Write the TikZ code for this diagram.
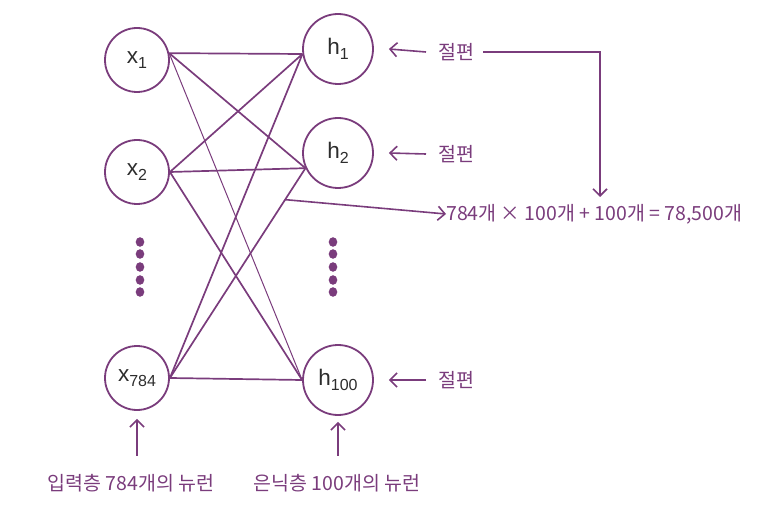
\documentclass[tikz,border=0pt]{standalone}
\usepackage{fontspec}
\setmainfont{Liberation Sans}
\newfontfamily\kr{Noto Sans CJK KR}
\usetikzlibrary{arrows.meta,calc}
\definecolor{pur}{RGB}{122,60,124}
\definecolor{ink}{RGB}{45,45,45}
\newcommand{\lsub}[1]{\raisebox{-0.45ex}{\fontsize{16}{16}\selectfont #1}}
\begin{document}
\begin{tikzpicture}[x=1pt,y=-1pt,
  neuron/.style={circle,draw=pur,line width=1.8pt,fill=white,inner sep=0pt,text=ink,font=\fontsize{22.5}{22.5}\selectfont},
  xn/.style={neuron,minimum size=64pt},
  hn/.style={neuron,minimum size=70pt},
  link/.style={draw=pur,line width=1.7pt},
  thin link/.style={draw=pur,line width=1.0pt},
  arr/.style={draw=pur,line width=1.6pt,-{Straight Barb[length=7pt,width=14pt,line width=1.6pt]}},
  lab/.style={text=pur,font=\kr\fontsize{19.5}{19.5}\selectfont,inner sep=0pt}
]
\useasboundingbox (0,0) rectangle (776,526);
% neurons
\node[xn] (x1) at (137,60) {x\lsub{1}};
\node[xn] (x2) at (137,172) {x\lsub{2}};
\node[xn] (x784) at (137,378) {x\lsub{784}};
\node[hn] (h1) at (338,49) {h\lsub{1}};
\node[hn] (h2) at (338,153) {h\lsub{2}};
\node[hn] (h100) at (338,380) {h\lsub{100}};
% dots
\foreach \y in {242,254,267,280,292}{
  \fill[pur] (140,\y) ellipse (4.3 and 4.8);
  \fill[pur] (333,\y) ellipse (4.3 and 4.8);
}
% connections
\path[link] (x1.12) -- (h1.188);
\path[link] (x1.12) -- (h2.205);
\path[thin link] (x1.12) -- (h100.west);
\path[link] (x2.east) -- (h1.188);
\path[link] (x2.east) -- (h2.205);
\path[link] (x2.east) -- (h100.west);
\path[link] (x784.east) -- (h1.188);
\path[link] (x784.east) -- coordinate[pos=0.85] (m) (h2.205);
\path[link] (x784.east) -- (h100.west);
% equation
\node[lab,anchor=west] (eq) at (446,214) {784개 × 100개 + 100개 = 78,500개};
\draw[arr] (m) -- (eq.west);
% biases
\node[lab,anchor=west] (b1) at (438,52) {절편};
\node[lab,anchor=west] (b2) at (438,154) {절편};
\node[lab,anchor=west] (b3) at (438,380) {절편};
\draw[arr] ([xshift=-12pt]b1.west) -- ([xshift=15pt]h1.east);
\draw[arr] ([xshift=-12pt]b2.west) -- ([xshift=15pt]h2.east);
\draw[arr] ([xshift=-12pt]b3.west) -- ([xshift=15pt]h100.east);
\coordinate (c) at (600,197);
\draw[arr] ([xshift=9pt]b1.east) -| (c);
% bottom labels
\node[lab] (in1) at (131,483) {입력층 784개의 뉴런};
\node[lab] (hid) at (337,483) {은닉층 100개의 뉴런};
\draw[arr] ($(x784.south)+(0,45)$) -- ($(x784.south)+(0,8)$);
\draw[arr] ($(h100.south)+(0,40)$) -- ($(h100.south)+(0,6)$);
\end{tikzpicture}
\end{document}
